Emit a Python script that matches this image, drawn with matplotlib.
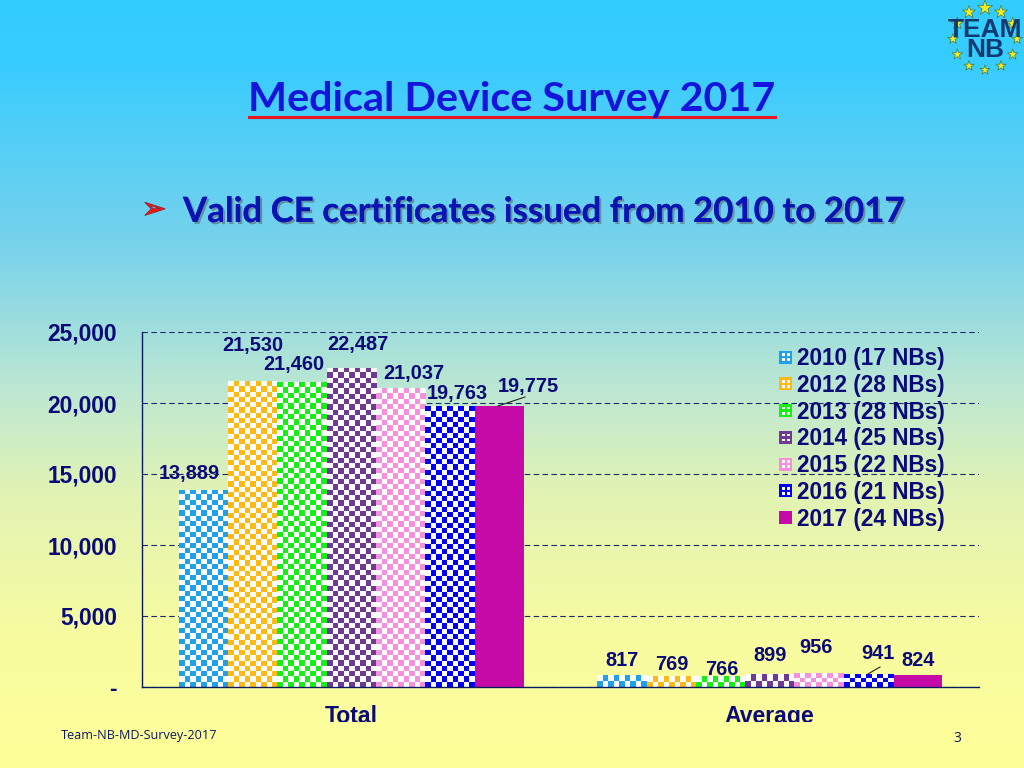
import numpy as np
import matplotlib
matplotlib.use('Agg')
import matplotlib.pyplot as plt
from matplotlib.legend_handler import HandlerBase
from matplotlib.lines import Line2D
from matplotlib.patches import Patch, Rectangle
from matplotlib.transforms import Bbox
import matplotlib.patheffects as pe

categories = ['Total', 'Average']
series_names = ['2010 (17 NBs)', '2012 (28 NBs)', '2013 (28 NBs)', '2014 (25 NBs)',
                '2015 (22 NBs)', '2016 (21 NBs)', '2017 (24 NBs)']
total_values = [13889, 21530, 21460, 22487, 21037, 19763, 19775]
average_values = [817, 769, 766, 899, 956, 941, 824]
y_ticks = [0, 5000, 10000, 15000, 20000, 25000]
y_tick_labels = ['-', '5,000', '10,000', '15,000', '20,000', '25,000']

colors = ['#1ea0ea', '#ffb914', '#14f014', '#6e3a96', '#f78fdd', '#0000f0', '#c50aa8']
navy = '#0a0a78'

# label offsets from the top of each bar, in pixels
total_offsets = [(-14, 16), (0, 36), (-8, 18), (7, 23), (13, 15), (7, 13), (29, 20)]
average_offsets = [(0, 15), (1, 12), (1, 7), (0, 19), (-3, 26), (10, 20), (0, 15)]

W, H = 1024, 768
plt.rcParams['font.family'] = ['Liberation Sans', 'DejaVu Sans']
fig = plt.figure(figsize=(W / 100, H / 100), dpi=100)

bg = fig.add_axes([0, 0, 1, 1], zorder=-1)
stop_y = [0, 60, 245, 392, 490, 637, 768]
stop_r = [51, 55, 120, 190, 225, 248, 255]
stop_g = [204, 204, 210, 232, 243, 252, 255]
stop_b = [255, 255, 235, 210, 180, 160, 153]
yy = np.arange(H)
grad = np.dstack([np.interp(yy, stop_y, c)[:, None] / 255 for c in (stop_r, stop_g, stop_b)])
bg.imshow(grad, aspect='auto', extent=(0, W, H, 0))
bg.set_xlim(0, W)
bg.set_ylim(H, 0)
bg.axis('off')

ax = fig.add_axes([142 / W, (H - 687) / H, 837 / W, 355 / H])
ax.patch.set_alpha(0)
width = 0.1178
px_per_value = 355 / 25000
cell = 5.3


def checker(bar, color):
    # no checkerboard hatch in matplotlib, so paint one inside the bar
    x0, h, w = bar.get_x(), bar.get_height(), bar.get_width()
    nx = max(int(round(49.3 / cell)), 1)
    ny = max(int(round(h * px_per_value / cell)), 1)
    rgb = np.array(matplotlib.colors.to_rgb(color))
    img = np.ones((ny, nx, 3))
    rows, cols = np.indices((ny, nx))
    img[(cols + rows) % 2 == 0] = rgb
    im = ax.imshow(img, extent=(x0, x0 + w, 0, h), aspect='auto',
                   interpolation='nearest', zorder=3, origin='lower')
    im.set_clip_path(bar)


for i, name in enumerate(series_names):
    xs = [0 + (i - 3) * width, 1 + (i - 3) * width]
    bars = ax.bar(xs, [total_values[i], average_values[i]], width, color=colors[i], zorder=2)
    if i < 6:
        for b in bars:
            checker(b, colors[i])
    for b, v, off in zip(bars, [total_values[i], average_values[i]],
                         [total_offsets[i], average_offsets[i]]):
        ax.annotate(f'{v:,}', (b.get_x() + b.get_width() / 2, v),
                    xytext=(off[0] * 0.72, off[1] * 0.72), textcoords='offset points',
                    ha='center', va='center', fontsize=14.4, fontweight='bold',
                    color=navy, zorder=5)

ax.set_xlim(-0.5, 1.5)
ax.set_ylim(0, 25000)
ax.set_yticks(y_ticks, y_tick_labels, fontsize=16.4, fontweight='bold', color=navy)
ax.set_xticks([0, 1], categories, fontsize=16.6, fontweight='bold', color=navy)
ax.tick_params(axis='y', length=0, pad=18)
ax.tick_params(axis='x', length=0, pad=13)
ax.yaxis.grid(True, color='#1a2a70', linestyle=(0, (5, 3)), linewidth=0.8, zorder=1)
ax.set_axisbelow(True)
for s in ['top', 'right']:
    ax.spines[s].set_visible(False)
for s in ['left', 'bottom']:
    ax.spines[s].set_color('#0a1a60')
    ax.spines[s].set_linewidth(1.0)
    ax.spines[s].set_zorder(6)

# the category labels get cut off at the bottom in the original
for lab in ax.get_xticklabels():
    lab.set_clip_on(True)
    lab.set_clip_box(Bbox([[0, H - 722], [W, H]]))


class HandlerChecker(HandlerBase):
    def create_artists(self, legend, orig, xdescent, ydescent, width, height, fontsize, trans):
        s = 13 * 0.72
        x0 = width - s
        y0 = (height - s) / 2
        out = [Rectangle((x0, y0), s, s, facecolor=orig.get_facecolor(), edgecolor='none', transform=trans)]
        if orig.get_label() != series_names[-1]:
            c = s / 5
            for r in (1, 3):
                for q in (1, 3):
                    out.append(Rectangle((x0 + q * c, y0 + r * c), c, c, facecolor='white',
                                         edgecolor='none', transform=trans))
        return out


handles = [Patch(facecolor=c, label=n) for c, n in zip(colors, series_names)]
leg = ax.legend(handles=handles, handler_map={Patch: HandlerChecker()}, frameon=False,
                loc='upper left', bbox_to_anchor=((773 - 142) / 837, (687 - 347) / 355),
                borderaxespad=0, borderpad=0, labelspacing=0.167, handlelength=0.86,
                handletextpad=0.2, prop={'size': 16.3, 'weight': 'bold'})
for txt in leg.get_texts():
    txt.set_color(navy)


def px_line(x, y, **kw):
    fig.add_artist(Line2D([v / W for v in x], [1 - v / H for v in y], **kw))


# leader lines of the moved labels
px_line([498, 525], [406, 397], color='#222222', linewidth=0.8)
px_line([868, 880], [674, 667], color='#222222', linewidth=0.8)

# title
fig.text(512 / W, 1 - 99 / H, 'Medical Device Survey 2017', ha='center', va='center',
         family='Lato', fontweight='bold', fontsize=29.8, color='#1414dc')
px_line([249, 775], [117, 117], color='#e8141e', linewidth=2.2)

# subtitle
fig.text(154 / W, 1 - 210 / H, '➢', ha='center', va='center', family='DejaVu Sans',
         fontsize=21, color='#f01414',
         path_effects=[pe.withStroke(linewidth=0.8, foreground='#6a3040')])
fig.text(183 / W, 1 - 212 / H, 'Valid CE certificates issued from 2010 to 2017', ha='left', va='center',
         family='Lato', fontweight='bold', fontsize=25.1, color='#0a14b4',
         path_effects=[pe.withSimplePatchShadow(offset=(1.5, -1.5), shadow_rgbFace='#555555', alpha=0.5),
                       pe.Normal()])

# footer
fig.text(61 / W, 1 - 736 / H, 'Team-NB-MD-Survey-2017', ha='left', va='center',
         family='Open Sans', fontsize=9.1, color='#0a1a60')
fig.text(957 / W, 1 - 739 / H, '3', ha='center', va='center',
         family='Open Sans', fontsize=10, color='#0a1a60')

# logo
star_angles = np.deg2rad(np.arange(90, -270, -30))
star_sizes = [130, 100, 85, 65, 65, 60, 55, 60, 65, 65, 85, 100]
bg.scatter(985 + 32 * np.cos(star_angles), 39 - 31 * np.sin(star_angles), s=star_sizes, marker='*',
           color='#f4ee1e', edgecolors='#3a7a50', linewidths=0.5, zorder=3)
bg.text(985, 40, 'TEAM\nNB', ha='center', va='center', ma='center', fontsize=19, linespacing=0.82,
        fontweight='bold', color='#103a70', zorder=4)

fig.savefig('out.png', dpi=100)
